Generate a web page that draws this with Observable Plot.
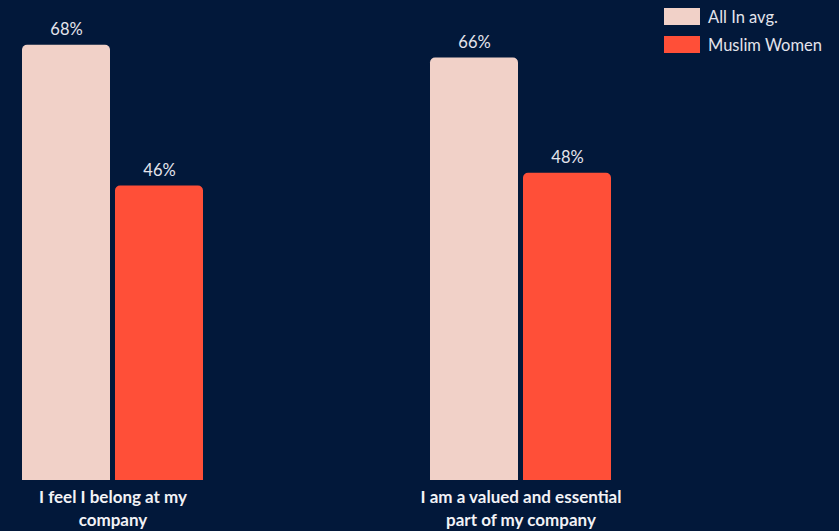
<!DOCTYPE html>
<html>
<head>
<meta charset="utf-8">
<script src="https://cdn.jsdelivr.net/npm/d3@7"></script>
<script src="https://cdn.jsdelivr.net/npm/@observablehq/plot@0.6"></script>
<style>
  html, body { margin: 0; padding: 0; background: #02183a; }
  #wrap { position: relative; width: 839px; height: 531px; font-family: Lato, "Open Sans", sans-serif; }
  #legend { position: absolute; left: 664px; top: 8px; color: #e4e4ec; font-size: 16.5px; }
  .row { display: flex; align-items: center; height: 17px; margin-bottom: 11px; }
  .sw { width: 36px; height: 17px; margin-right: 8px; }
</style>
</head>
<body>
<div id="wrap"><div id="legend"></div></div>
<script>
const questions = ["I feel I belong at my\ncompany", "I am a valued and essential\npart of my company"];
const series = ["All In avg.", "Muslim Women"];
const colors = ["#f1d1c8", "#ff4f38"];
const allInAvg = [68, 66];
const muslimWomen = [46, 48];

const data = [];
questions.forEach((q, i) => {
  data.push({question: q, series: series[0], value: allInAvg[i]});
  data.push({question: q, series: series[1], value: muslimWomen[i]});
});

const chart = Plot.plot({
  width: 839,
  height: 531,
  marginTop: 0,
  marginBottom: 51,
  marginLeft: 21,
  marginRight: 227,
  style: {background: "transparent", fontFamily: "Lato, 'Open Sans', sans-serif", color: "#e4e4ec"},
  fx: {domain: questions, paddingInner: 0.5515, paddingOuter: 0, align: 0, label: null},
  x: {domain: series, paddingInner: 0.053, paddingOuter: 0, axis: null},
  y: {domain: [0, 75], axis: null},
  color: {domain: series, range: colors},
  marks: [
    Plot.barY(data, {fx: "question", x: "series", y: "value", fill: "series", ry1: 5}),
    Plot.text(data, {fx: "question", x: "series", y: "value", text: d => d.value + "%", lineAnchor: "bottom", dy: -10, fontSize: 16.5, fill: "#e4e4ec"}),
    Plot.axisFx({anchor: "bottom", tickSize: 0, tickPadding: 6, fontSize: 17, fontWeight: "bold", lineHeight: 1.35, fill: "#f2f2f6", label: null})
  ]
});
document.getElementById("wrap").prepend(chart);

const legend = document.getElementById("legend");
series.forEach((s, i) => {
  const row = document.createElement("div");
  row.className = "row";
  const sw = document.createElement("div");
  sw.className = "sw";
  sw.style.background = colors[i];
  const t = document.createElement("span");
  t.textContent = s;
  row.append(sw, t);
  legend.append(row);
});
</script>
</body>
</html>
